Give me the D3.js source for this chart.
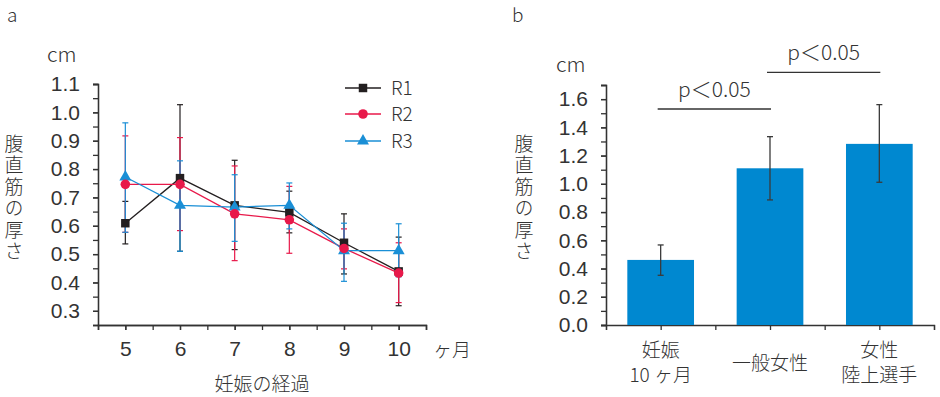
<!DOCTYPE html>
<html>
<head>
<meta charset="utf-8">
<script src="https://cdn.jsdelivr.net/npm/d3@7"></script>
<style>
  body { margin: 0; background: #fff; }
  svg { display: block; font-family: "Noto Sans CJK JP", "Noto Sans", sans-serif; font-weight: 300; }
  text { fill: #333; }
</style>
</head>
<body>
<svg id="chart" width="940" height="397"></svg>
<script>
// panel a: thickness by month of pregnancy
const months = [5, 6, 7, 8, 9, 10]
const r1 = [0.609, 0.768, 0.672, 0.647, 0.540, 0.439]
const r1Lo = [0.536, 0.510, 0.516, 0.575, 0.430, 0.318]
const r1Hi = [0.686, 1.027, 0.831, 0.722, 0.642, 0.560]
const r2 = [0.746, 0.746, 0.642, 0.621, 0.520, 0.433]
const r2Lo = [0.577, 0.583, 0.477, 0.503, 0.448, 0.329]
const r2Hi = [0.917, 0.911, 0.811, 0.739, 0.589, 0.540]
const r3 = [0.772, 0.672, 0.666, 0.672, 0.512, 0.512]
const r3Lo = [0.577, 0.510, 0.545, 0.589, 0.404, 0.420]
const r3Hi = [0.963, 0.829, 0.780, 0.751, 0.609, 0.607]
const yTicksA = [0.3, 0.4, 0.5, 0.6, 0.7, 0.8, 0.9, 1.0, 1.1]

// panel b: comparison of groups
const groups = [['妊娠', '10 ヶ月'], ['一般女性'], ['女性', '陸上選手']]
const groupVals = [0.461, 1.110, 1.283]
const groupLo = [0.352, 0.886, 1.011]
const groupHi = [0.567, 1.334, 1.561]
const yTicksB = [0, 0.2, 0.4, 0.6, 0.8, 1.0, 1.2, 1.4, 1.6]
const sigPairs = [[0, 1], [1, 2]]
const sigLevels = [1.53, 1.79]

const svg = d3.select('#chart')
const axisCol = '#333'
const numFont = 21

// ---------- panel a ----------
const xA = d3.scaleLinear().domain([4.5, 10.5]).range([98, 426])
const yA = d3.scaleLinear().domain([0.25, 1.1]).range([325, 84])

const gA = svg.append('g')

gA.append('g')
  .attr('transform', 'translate(98,0)')
  .call(d3.axisLeft(yA).tickValues(d3.range(0.3, 1.11, 0.05)).tickSize(5).tickFormat(''))
gA.append('g')
  .attr('transform', 'translate(98,0)')
  .call(d3.axisLeft(yA).tickValues(yTicksA).tickSize(5).tickPadding(13).tickFormat(d3.format('.1f')))
gA.append('g')
  .attr('transform', 'translate(0,325)')
  .call(d3.axisBottom(xA).tickValues(d3.range(4.5, 10.51, 0.5)).tickSize(5).tickFormat(''))
gA.append('g')
  .attr('transform', 'translate(0,325)')
  .call(d3.axisBottom(xA).tickValues(months).tickSize(5).tickPadding(11).tickFormat(d3.format('d')))

gA.selectAll('.domain, .tick line').attr('stroke', axisCol).attr('stroke-width', 1.3)
gA.selectAll('.tick text').attr('font-size', numFont).attr('fill', '#333').attr('font-family', null)

const series = [
  { name: 'R1', vals: r1, lo: r1Lo, hi: r1Hi, color: '#231f20', shape: d3.symbolSquare, size: 72 },
  { name: 'R2', vals: r2, lo: r2Lo, hi: r2Hi, color: '#e8194a', shape: d3.symbolCircle, size: 72 },
  { name: 'R3', vals: r3, lo: r3Lo, hi: r3Hi, color: '#1a8fd6', shape: d3.symbolTriangle, size: 62 }
]

// error bars
series.forEach(s => {
  const eb = gA.append('g').attr('stroke', s.color).attr('stroke-width', 1.2)
  months.forEach((m, i) => {
    eb.append('line').attr('x1', xA(m)).attr('x2', xA(m)).attr('y1', yA(s.lo[i])).attr('y2', yA(s.hi[i]))
    ;[s.lo[i], s.hi[i]].forEach(v => {
      eb.append('line').attr('x1', xA(m) - 3).attr('x2', xA(m) + 3).attr('y1', yA(v)).attr('y2', yA(v))
    })
  })
})

const line = d3.line().x((d, i) => xA(months[i])).y(d => yA(d))
series.forEach(s => {
  gA.append('path').datum(s.vals).attr('d', line).attr('fill', 'none')
    .attr('stroke', s.color).attr('stroke-width', 1.3)
})
;[series[0], series[2], series[1]].forEach(s => {
  gA.selectAll(null).data(s.vals).join('path')
    .attr('transform', (d, i) => `translate(${xA(months[i])},${yA(d)})`)
    .attr('d', d3.symbol(s.shape, s.size))
    .attr('fill', s.color)
})

// legend
series.forEach((s, i) => {
  const ly = [88, 114, 141][i]
  gA.append('line').attr('x1', 345).attr('x2', 381).attr('y1', ly).attr('y2', ly)
    .attr('stroke', s.color).attr('stroke-width', 1.3)
  gA.append('path').attr('transform', `translate(363,${ly})`)
    .attr('d', d3.symbol(s.shape, s.size)).attr('fill', s.color)
  gA.append('text').attr('x', 391).attr('y', ly + 7).attr('font-size', 19).text(s.name)
})

svg.append('text').attr('x', 7).attr('y', 22).attr('font-size', 19).text('a')
svg.append('text').attr('x', 47).attr('y', 62).attr('font-size', 21).text('cm')
svg.append('text').attr('x', 433).attr('y', 357).attr('font-size', 19).text('ヶ月')
svg.append('text').attr('x', 262).attr('y', 391).attr('text-anchor', 'middle').attr('font-size', 19).text('妊娠の経過')

function vertTitle(x, y0) {
  svg.append('text').attr('font-size', 19)
    .attr('x', x).attr('y', y0)
    .style('writing-mode', 'vertical-rl')
    .style('letter-spacing', '2.5px')
    .text('腹直筋の厚さ')
}
vertTitle(14, 134)
vertTitle(524, 134)

// ---------- panel b ----------
const xB = d3.scaleBand().domain(d3.range(groups.length)).range([606, 934]).paddingInner(0.39).paddingOuter(0.195)
const yB = d3.scaleLinear().domain([0, 1.7]).range([325, 85])

const gB = svg.append('g')
gB.append('g')
  .attr('transform', 'translate(606,0)')
  .call(d3.axisLeft(yB).tickValues(d3.range(0, 1.71, 0.1)).tickSize(5).tickFormat(''))
gB.append('g')
  .attr('transform', 'translate(606,0)')
  .call(d3.axisLeft(yB).tickValues(yTicksB).tickSize(5).tickPadding(13).tickFormat(d3.format('.1f')))

const xEdge = d3.scaleLinear().domain([0, groups.length]).range([606, 934])
gB.append('g')
  .attr('transform', 'translate(0,325)')
  .call(d3.axisBottom(xEdge).tickValues(d3.range(0, groups.length + 1)).tickSize(5).tickFormat(''))
gB.append('g')
  .attr('transform', 'translate(0,325)')
  .call(d3.axisBottom(xEdge).tickValues(d3.range(0.5, groups.length, 1)).tickSize(5).tickFormat(''))
  .select('.domain').remove()

gB.selectAll('.domain, .tick line').attr('stroke', axisCol).attr('stroke-width', 1.3)
gB.selectAll('.tick text').attr('font-size', numFont).attr('fill', '#333').attr('font-family', null)

gB.selectAll('rect.bar').data(groupVals).join('rect')
  .attr('class', 'bar')
  .attr('x', (d, i) => xB(i)).attr('width', xB.bandwidth())
  .attr('y', d => yB(d)).attr('height', d => yB(0) - yB(d))
  .attr('fill', '#0088d0')

groupVals.forEach((d, i) => {
  const cx = xB(i) + xB.bandwidth() / 2
  const eb = gB.append('g').attr('stroke', '#3a3a3a').attr('stroke-width', 1.3)
  eb.append('line').attr('x1', cx).attr('x2', cx).attr('y1', yB(groupLo[i])).attr('y2', yB(groupHi[i]))
  ;[groupLo[i], groupHi[i]].forEach(v => {
    eb.append('line').attr('x1', cx - 3).attr('x2', cx + 3).attr('y1', yB(v)).attr('y2', yB(v))
  })
})

groups.forEach((lines, i) => {
  const cx = xB(i) + xB.bandwidth() / 2
  const y0 = lines.length === 1 ? 370 : 357
  lines.forEach((s, k) => {
    gB.append('text').attr('text-anchor', 'middle').attr('font-size', 19)
      .attr('x', cx).attr('y', y0 + k * 25).text(s)
  })
})

sigPairs.forEach((p, i) => {
  const x1 = xB(p[0]) + xB.bandwidth() / 2 - 3
  const x2 = xB(p[1]) + xB.bandwidth() / 2 + 1
  const ly = yB(sigLevels[i])
  gB.append('line').attr('x1', x1).attr('x2', x2).attr('y1', ly).attr('y2', ly)
    .attr('stroke', '#333').attr('stroke-width', 1.3)
  gB.append('text').attr('x', (x1 + x2) / 2).attr('y', ly - 12).attr('text-anchor', 'middle')
    .attr('font-size', 21).text('p＜0.05')
})

svg.append('text').attr('x', 512).attr('y', 22).attr('font-size', 19).text('b')
svg.append('text').attr('x', 556).attr('y', 72).attr('font-size', 21).text('cm')
</script>
</body>
</html>
